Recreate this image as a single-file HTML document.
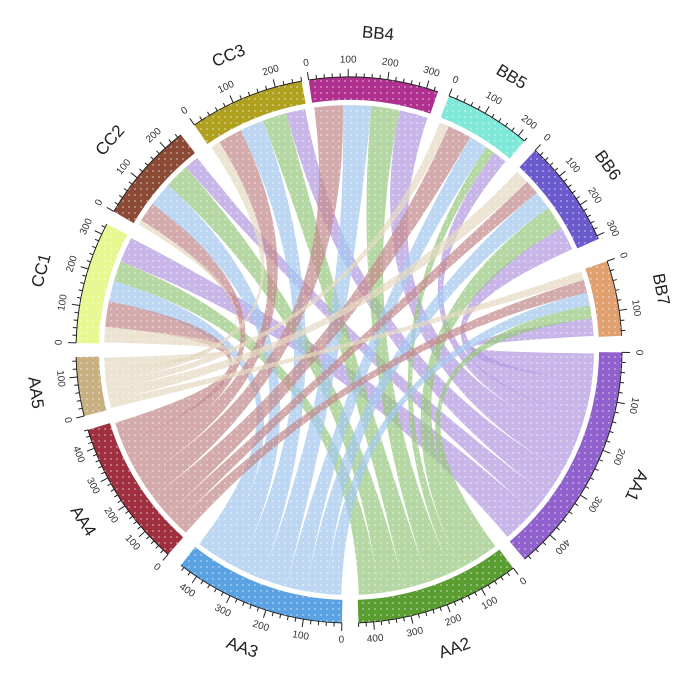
<!DOCTYPE html>
<html><head><meta charset="utf-8"><style>
html,body{margin:0;padding:0;background:#fff;}
svg{display:block;font-family:"Liberation Sans",sans-serif;}
</style></head><body>
<svg id="s" width="692" height="692" viewBox="0 0 692 692" xmlns="http://www.w3.org/2000/svg">
<defs>
<pattern id="dots" width="6" height="6" patternUnits="userSpaceOnUse"><circle cx="3" cy="3" r="0.9" fill="#fff" opacity="0.55"/></pattern>
<clipPath id="cl"><circle cx="349" cy="350" r="274"/></clipPath>
</defs>
<g id="g"></g>
</svg>
<script>
var cx=349,cy=350,R=245,r1=250,r2=273;
var NS="http://www.w3.org/2000/svg",g=document.getElementById('g');
function P(r,a){a=a*Math.PI/180;return [cx+r*Math.sin(a),cy-r*Math.cos(a)];}
function el(t,at,txt){var e=document.createElementNS(NS,t);for(var k in at)e.setAttribute(k,at[k]);if(txt!=null)e.textContent=txt;g.appendChild(e);return e;}
var sec={
BB4:[-8.5,19,330,'#b0308f'],BB5:[21.5,40,220,'#7fe8d8'],BB6:[43,66,310,'#6a5acd'],BB7:[71,87,150,'#e0a070'],
AA1:[90.5,140,470,'#9060cc'],AA2:[143,178,440,'#5a9e32'],AA3:[181.5,218,450,'#5aa2e2'],AA4:[221.5,253,460,'#a03040'],AA5:[256,268.5,150,'#c8b080'],
CC1:[271.5,297.5,330,'#e8f890'],CC2:[300.5,322,250,'#8b4a35'],CC3:[325.5,350,260,'#b0a020']};
var AA=['AA1','AA2','AA3','AA4','AA5'],AC=['#b49ae0','#98c880','#a4c8ee','#c48a8e','#e4d8c0'];
var T=['BB7','BB6','BB5','BB4','CC3','CC2','CC1'];
var W={AA1:{BB4:5,BB5:3,BB6:5,BB7:4,CC1:5,CC2:3,CC3:4},AA2:{BB4:5,BB5:2,BB6:5,BB7:3,CC1:4,CC2:5,CC3:5},
AA3:{BB4:5,BB5:4,BB6:4,BB7:3,CC1:4,CC2:5,CC3:5},AA4:{BB4:5,BB5:5,BB6:3,BB7:3,CC1:5,CC2:4,CC3:5},AA5:{BB4:0,BB5:2,BB6:3,BB7:2,CC1:3,CC2:1,CC3:2}};
var tgt={};T.forEach(function(t){var s=sec[t],ord=['AA5','AA4','AA3','AA2','AA1'],tot=0;ord.forEach(function(a){tot+=W[a][t];});var cur=s[0]+0.3,span=s[1]-s[0]-0.6;tgt[t]={};ord.forEach(function(a){var w=W[a][t]/tot*span;tgt[t][a]=[cur,cur+w];cur+=w;});});
function arc(r,a,b){var p=P(r,b);return 'A'+r+' '+r+' 0 '+((b-a)>180?1:0)+' 1 '+p[0]+' '+p[1];}
var gr=document.createElementNS(NS,'g');gr.setAttribute('clip-path','url(#cl)');
AA.forEach(function(a,i){var s=sec[a],tot=0;T.forEach(function(t){tot+=W[a][t];});var cur=s[0]+0.3,span=s[1]-s[0]-0.6;
T.forEach(function(t){var w=W[a][t]/tot*span;if(w<=0)return;var s1=cur,s2=cur+w;cur+=w;var tt=tgt[t][a];
var p1=P(R,s1),q1=P(R,tt[0]);
var d='M'+p1[0]+' '+p1[1]+arc(R,s1,s2)+'Q'+cx+' '+cy+' '+q1[0]+' '+q1[1]+arc(R,tt[0],tt[1])+'Q'+cx+' '+cy+' '+p1[0]+' '+p1[1]+'Z';
var e=document.createElementNS(NS,'path');e.setAttribute('d',d);e.setAttribute('fill',AC[i]);e.setAttribute('fill-opacity','0.72');gr.appendChild(e);});});
g.appendChild(gr);
function rot(a){a=((a%360)+360)%360;return (a>=135&&a<270)?a-180:a;}
for(var k in sec){var s=sec[k],a=s[0],b=s[1];var o1=P(r2,a),i2=P(r1,b);
el('path',{d:'M'+o1[0]+' '+o1[1]+arc(r2,a,b)+'L'+i2[0]+' '+i2[1]+'A'+r1+' '+r1+' 0 0 0 '+P(r1,a).join(' ')+'Z',fill:s[3]});
el('path',{d:'M'+o1[0]+' '+o1[1]+arc(r2,a,b),fill:'none',stroke:'#222','stroke-width':1});
var upd=(b-a)/s[2];
for(var v=0;v<=s[2];v+=20){var an=a+v*upd,maj=v%100==0,p=P(r2,an),q=P(r2+(maj?8:4),an);
el('line',{x1:p[0],y1:p[1],x2:q[0],y2:q[1],stroke:'#222','stroke-width':1});
if(maj){var t=P(r2+17,an);el('text',{x:t[0],y:t[1],'font-size':10,fill:'#333','text-anchor':'middle','dominant-baseline':'middle',transform:'rotate('+rot(an)+' '+t[0]+' '+t[1]+')'},v);}}
var m=(a+b)/2,t=P(r2+44,m);
el('text',{x:t[0],y:t[1],'font-size':17,fill:'#222','text-anchor':'middle','dominant-baseline':'middle',transform:'rotate('+rot(m)+' '+t[0]+' '+t[1]+')'},k);}
el('circle',{cx:cx,cy:cy,r:r2,fill:'url(#dots)'});
</script>
</body></html>
